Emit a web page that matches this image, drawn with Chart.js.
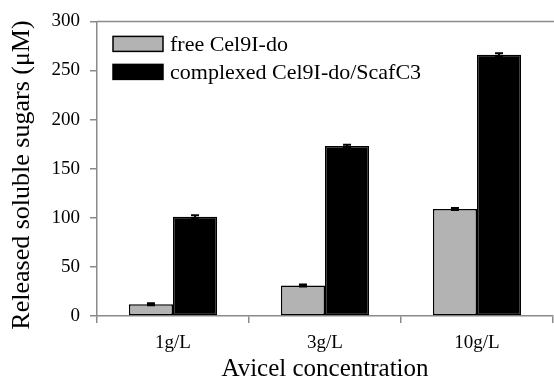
<!DOCTYPE html>
<html>
<head>
<meta charset="utf-8">
<script src="https://cdn.jsdelivr.net/npm/chart.js@4"></script>
<style>
  body { margin: 0; background: #fff; }
  #chart { display: block; }
</style>
</head>
<body>
<canvas id="chart" width="554" height="383"></canvas>
<script>
// data
const categories = ['1g/L', '3g/L', '10g/L'];
const freeValues = [12, 31, 109];
const freeErrors = [1, 1, 1];
const complexValues = [101, 173, 266];
const complexErrors = [1.5, 1.5, 1.5];
const seriesNames = ['free Cel9I-do', 'complexed Cel9I-do/ScafC3'];
const yTicks = [0, 50, 100, 150, 200, 250, 300];
const yTitle = 'Released soluble sugars (μM)';

const axisColor = '#8a8a8a';
const serif = '"Liberation Serif", "DejaVu Serif", serif';

// draws error bars, top border, y title and the boxed legend
const extras = {
    id: 'extras',
    afterDatasetsDraw(chart) {
        const ctx = chart.ctx;
        const y = chart.scales.y;
        const errs = [freeErrors, complexErrors];
        ctx.save();
        ctx.strokeStyle = '#000';
        ctx.lineWidth = 2;
        chart.data.datasets.forEach((ds, i) => {
            const meta = chart.getDatasetMeta(i);
            meta.data.forEach((bar, j) => {
                const v = ds.data[j];
                const e = errs[i][j];
                const yt = y.getPixelForValue(v + e);
                const yb = y.getPixelForValue(v - e);
                ctx.beginPath();
                ctx.moveTo(bar.x, yt);
                ctx.lineTo(bar.x, yb);
                ctx.moveTo(bar.x - 4, yt);
                ctx.lineTo(bar.x + 4, yt);
                ctx.moveTo(bar.x - 4, yb);
                ctx.lineTo(bar.x + 4, yb);
                ctx.stroke();
            });
        });
        ctx.restore();
    },
    afterDraw(chart) {
        const ctx = chart.ctx;
        const area = chart.chartArea;
        ctx.save();
        // top frame line
        ctx.strokeStyle = axisColor;
        ctx.lineWidth = 1.5;
        ctx.beginPath();
        ctx.moveTo(area.left, area.top);
        ctx.lineTo(chart.width, area.top);
        ctx.stroke();

        // y axis title, a bit below the middle of the plot like the original
        ctx.save();
        ctx.translate(22, 175);
        ctx.rotate(-Math.PI / 2);
        ctx.font = '26px ' + serif;
        ctx.fillStyle = '#000';
        ctx.textAlign = 'center';
        ctx.textBaseline = 'middle';
        ctx.fillText(yTitle, 0, 0);
        ctx.restore();

        // legend
        ctx.font = '22px ' + serif;
        ctx.textBaseline = 'middle';
        chart.data.datasets.forEach((ds, i) => {
            const bx = area.left + 16;
            const by = area.top + 15 + i * 28;
            ctx.fillStyle = ds.backgroundColor;
            ctx.fillRect(bx, by, 50, 15);
            ctx.strokeStyle = '#000';
            ctx.lineWidth = 1.5;
            ctx.strokeRect(bx, by, 50, 15);
            ctx.fillStyle = '#000';
            ctx.fillText(ds.label, bx + 57, by + 9);
        });
        ctx.restore();
    }
};

const chart = new Chart(document.getElementById('chart'), {
    type: 'bar',
    data: {
        labels: categories,
        datasets: [
            {
                label: seriesNames[0],
                data: freeValues,
                backgroundColor: '#b3b3b3',
                borderColor: '#000',
                borderWidth: 1.5,
                borderSkipped: false,
            },
            {
                label: seriesNames[1],
                data: complexValues,
                backgroundColor: '#000',
                borderColor: '#000',
                borderWidth: 1.5,
                borderSkipped: false,
            },
        ],
    },
    options: {
        responsive: false,
        animation: false,
        devicePixelRatio: 1,
        categoryPercentage: 0.58,
        barPercentage: 1,
        layout: { padding: { top: 17, right: 1, left: 0, bottom: 0 } },
        plugins: {
            legend: { display: false },
            tooltip: { enabled: false },
        },
        scales: {
            x: {
                afterFit: (s) => { s.height = 67; },
                grid: {
                    drawOnChartArea: false,
                    drawTicks: true,
                    tickLength: 7,
                    color: axisColor,
                    lineWidth: 1.5,
                },
                border: { color: axisColor, width: 1.5 },
                ticks: {
                    color: '#000',
                    padding: 9,
                    font: { family: serif, size: 19 },
                },
                title: {
                    display: true,
                    text: 'Avicel concentration',
                    color: '#000',
                    font: { family: serif, size: 25, lineHeight: 1 },
                    padding: { top: 0, bottom: 1 },
                },
            },
            y: {
                min: 0,
                max: 300,
                afterFit: (s) => { s.width = 97; },
                afterBuildTicks: (s) => { s.ticks = yTicks.map(v => ({ value: v })); },
                grid: {
                    drawOnChartArea: false,
                    drawTicks: true,
                    tickLength: 7,
                    color: axisColor,
                    lineWidth: 1.5,
                },
                border: { color: axisColor, width: 1.5 },
                ticks: {
                    color: '#000',
                    padding: 10,
                    font: { family: serif, size: 19 },
                },
            },
        },
    },
    plugins: [extras],
});
</script>
</body>
</html>
